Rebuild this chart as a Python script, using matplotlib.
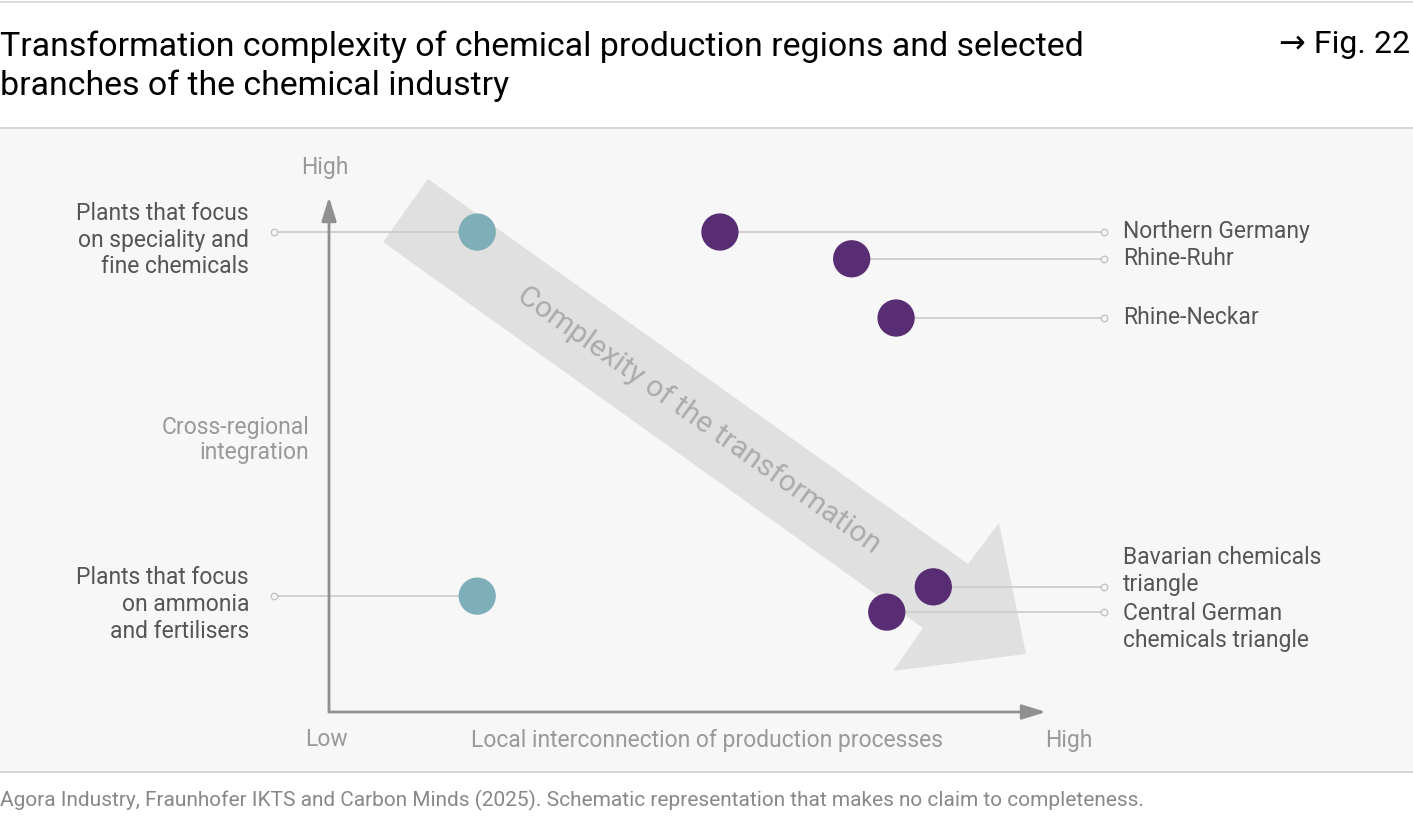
import matplotlib
matplotlib.use("Agg")
import matplotlib.pyplot as plt
from matplotlib.patches import Polygon, Rectangle
import numpy as np

plt.rcParams['font.family'] = ['Roboto', 'DejaVu Sans']

# ---------------- data ----------------
branch_labels = ["Plants that focus\non speciality and\nfine chemicals",
                 "Plants that focus\non ammonia\nand fertilisers"]
branch_x = [2.07, 2.07]
branch_y = [9.32, 2.25]

region_labels = ["Northern Germany", "Rhine-Ruhr", "Rhine-Neckar",
                 "Bavarian chemicals\ntriangle", "Central German\nchemicals triangle"]
region_x = [5.46, 7.30, 7.92, 8.44, 7.79]
region_y = [9.32, 8.80, 7.65, 2.43, 1.94]

title = ("Transformation complexity of chemical production regions and selected\n"
         "branches of the chemical industry")
fig_ref = "\u2192 Fig. 22"
x_axis_title = "Local interconnection of production processes"
y_axis_title = "Cross-regional\nintegration"
axis_low, axis_high = "Low", "High"
arrow_text = "Complexity of the transformation"
source = ("Agora Industry, Fraunhofer IKTS and Carbon Minds (2025). "
          "Schematic representation that makes no claim to completeness.")

TEAL = "#7eaeb7"
PURPLE = "#582d73"
AXIS = "#909090"
LEADER = "#cccccc"
LABEL = "#555555"
LIGHT = "#999999"

# ---------------- layout helpers (pixel -> data) ----------------
W, H = 1413, 825
X0, X1 = 329, 1045   # pixel x of data 0 and 10
Y0, Y1 = 712, 197    # pixel y of data 0 and 10


def X(px):
    return (px - X0) / (X1 - X0) * 10


def Y(py):
    return (Y0 - py) / (Y0 - Y1) * 10


fig = plt.figure(figsize=(W / 100, H / 100), dpi=100)
ax = fig.add_axes([0, 0, 1, 1])
ax.set_xlim(X(0), X(W))
ax.set_ylim(Y(H), Y(0))
ax.axis("off")

# background panel and rules
ax.add_patch(Rectangle((X(0), Y(772)), X(W) - X(0), Y(128) - Y(772),
                       facecolor="#f7f7f7", edgecolor="none", zorder=0))
for py, c in [(2, "#d4d4d4"), (128, "#d0d0d0"), (772, "#d0d0d0")]:
    ax.plot([X(0), X(W)], [Y(py), Y(py)], color=c, lw=1.2, zorder=1)

# title
ax.text(X(0), Y(66), title, fontsize=24.4, color="#000000", ha="left", va="center",
        linespacing=1.24)
ax.text(X(1410), Y(45), fig_ref, fontsize=23, color="#000000", ha="right", va="center")

# big grey arrow
arrow_px = [(428, 179), (968, 564), (999, 523), (1026, 654), (893, 671),
            (923, 628), (383, 242)]
ax.add_patch(Polygon([(X(a), Y(b)) for a, b in arrow_px], closed=True,
                     facecolor="#e0e0e0", edgecolor="none", zorder=2))
ang = np.degrees(np.arctan2(385, 540))
ax.text(X(699), Y(420), arrow_text, fontsize=21.5, color="#ababab",
        rotation=-ang, rotation_mode="anchor", ha="center", va="center", zorder=3)

# axes with arrows
ax.annotate("", xy=(0, Y(197)), xytext=(0, 0),
            arrowprops=dict(arrowstyle="-|>,head_length=1.45,head_width=0.45",
                            color=AXIS, lw=2, shrinkA=0, shrinkB=0), zorder=4)
ax.annotate("", xy=(X(1046), 0), xytext=(0, 0),
            arrowprops=dict(arrowstyle="-|>,head_length=1.45,head_width=0.45",
                            color=AXIS, lw=2, shrinkA=0, shrinkB=0), zorder=4)

FS = 16.5
ax.text(X(325), Y(168), axis_high, fontsize=FS, color=LIGHT, ha="center", va="center")
ax.text(X(326), Y(740), axis_low, fontsize=FS, color=LIGHT, ha="center", va="center")
ax.text(X(1069), Y(740), axis_high, fontsize=FS, color=LIGHT, ha="center", va="center")
ax.text(X(707), Y(741), x_axis_title, fontsize=FS, color=LIGHT, ha="center", va="center")
ax.text(X(309), Y(440), y_axis_title, fontsize=FS, color=LIGHT, ha="right", va="center",
        linespacing=1.12)

# branches (left)
label_offset = Y(232) - Y(240)
for lab, x, y in zip(branch_labels, branch_x, branch_y):
    ax.plot([X(274), x], [y, y], color=LEADER, lw=1.3, zorder=3)
    ax.scatter([X(274)], [y], s=22, facecolor="#f7f7f7", edgecolor="#c4c4c4",
               lw=1.0, zorder=5)
    ax.text(X(249), y - label_offset, lab, fontsize=FS, color=LABEL,
            ha="right", va="center", linespacing=1.22)
ax.scatter(branch_x, branch_y, s=720, color=TEAL, edgecolor="none", zorder=6)

# regions (right)
for lab, x, y in zip(region_labels, region_x, region_y):
    ax.plot([x, X(1104)], [y, y], color=LEADER, lw=1.3, zorder=3)
    ax.scatter([X(1104)], [y], s=22, facecolor="#f7f7f7", edgecolor="#c4c4c4",
               lw=1.0, zorder=5)
ax.scatter(region_x, region_y, s=720, color=PURPLE, edgecolor="none", zorder=6)

region_text_py = [232, 259, 318, 571, 627]
for lab, py in zip(region_labels, region_text_py):
    ax.text(X(1123), Y(py), lab, fontsize=FS, color=LABEL, ha="left", va="center",
            linespacing=1.18)

# source
ax.text(X(0), Y(800), source, fontsize=15, color="#888888", ha="left", va="center")

fig.savefig("out.png", dpi=100)
